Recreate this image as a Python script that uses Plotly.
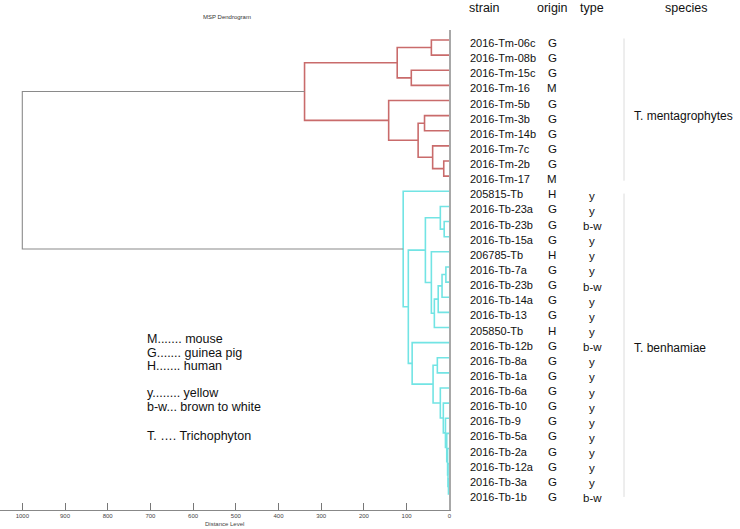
import plotly.graph_objects as go

# ---------------- data ----------------
strains = ["2016-Tm-06c", "2016-Tm-08b", "2016-Tm-15c", "2016-Tm-16", "2016-Tm-5b",
           "2016-Tm-3b", "2016-Tm-14b", "2016-Tm-7c", "2016-Tm-2b", "2016-Tm-17",
           "205815-Tb", "2016-Tb-23a", "2016-Tb-23b", "2016-Tb-15a", "206785-Tb",
           "2016-Tb-7a", "2016-Tb-23b", "2016-Tb-14a", "2016-Tb-13", "205850-Tb",
           "2016-Tb-12b", "2016-Tb-8a", "2016-Tb-1a", "2016-Tb-6a", "2016-Tb-10",
           "2016-Tb-9", "2016-Tb-5a", "2016-Tb-2a", "2016-Tb-12a", "2016-Tb-3a",
           "2016-Tb-1b"]
origins = ["G", "G", "G", "M", "G", "G", "G", "G", "G", "M",
           "H", "G", "G", "G", "H", "G", "G", "G", "G", "H",
           "G", "G", "G", "G", "G", "G", "G", "G", "G", "G", "G"]
types = ["", "", "", "", "", "", "", "", "", "",
         "y", "y", "b-w", "y", "y", "y", "b-w", "y", "y", "y",
         "b-w", "y", "y", "y", "y", "y", "y", "y", "y", "y", "b-w"]

# merges: (node name, child 1, child 2, distance level, group)
merges = [
    ("a", 0, 1, 42, "Tm"), ("b", 2, 3, 89, "Tm"), ("c", "a", "b", 122, "Tm"),
    ("d", 5, 6, 58, "Tm"), ("e", 8, 9, 13, "Tm"), ("f", 7, "e", 39, "Tm"),
    ("g", "d", "f", 73, "Tm"), ("h", 4, "g", 142, "Tm"), ("tm", "c", "h", 339, "Tm"),
    ("n1", 12, 13, 12, "Tb"), ("n2", 11, "n1", 21, "Tb"), ("n3", 15, 16, 8, "Tb"),
    ("n4", "n3", 17, 17, "Tb"), ("n5", "n4", 18, 26, "Tb"), ("n6", "n5", 19, 35, "Tb"),
    ("n7", 14, "n6", 42, "Tb"), ("A", "n2", "n7", 56, "Tb"),
    ("m1", 21, 22, 28, "Tb"), ("ma", 29, 30, 2, "Tb"), ("mb", 28, "ma", 3, "Tb"),
    ("mc", 27, "mb", 4, "Tb"), ("md", 26, "mc", 6, "Tb"), ("me", 25, "md", 9, "Tb"),
    ("mf", 24, "me", 14, "Tb"), ("mg", 23, "mf", 21, "Tb"), ("mh", "m1", "mg", 38, "Tb"),
    ("B", 20, "mh", 87, "Tb"), ("AB", "A", "B", 96, "Tb"), ("tb", 10, "AB", 108, "Tb"),
    ("root", "tm", "tb", 1000, "root"),
]
x_ticks = [0, 100, 200, 300, 400, 500, 600, 700, 800, 900, 1000]
species = ["T. mentagrophytes", "T. benhamiae"]
legend_lines = ["M....... mouse", "G....... guinea pig", "H....... human",
                "y........ yellow", "b-w... brown to white", "T. …. Trichophyton"]

# ---------------- layout helpers ----------------
W, H = 740, 529
def px(x):  # window pixel x -> paper
    return x / W
def py(y):  # window pixel y -> paper
    return (H - y) / H

colors = {"Tm": "#c96b6b", "Tb": "#72e4e4", "root": "#8a8a8a"}
widths = {"Tm": 1.6, "Tb": 1.6, "root": 1.1}

pos = {i: float(i) for i in range(len(strains))}
hgt = {i: 0.0 for i in range(len(strains))}
segs = {"Tm": ([], []), "Tb": ([], []), "root": ([], [])}
for name, c1, c2, d, grp in merges:
    pos[name] = (pos[c1] + pos[c2]) / 2
    hgt[name] = d
    xs, ys = segs[grp]
    xs += [hgt[c1], d, d, hgt[c2], None]
    ys += [pos[c1], pos[c1], pos[c2], pos[c2], None]

fig = go.Figure()
for grp in ["Tm", "Tb", "root"]:
    xs, ys = segs[grp]
    fig.add_trace(go.Scatter(x=xs, y=ys, mode="lines",
                             line=dict(color=colors[grp], width=widths[grp]),
                             hoverinfo="skip", showlegend=False))
# small leaf ticks beside the zero line
fig.add_trace(go.Scatter(x=[-4] * len(strains), y=[i - 0.12 for i in range(len(strains))],
                         mode="markers",
                         marker=dict(symbol="line-ns", size=5,
                                     line=dict(color="#777", width=1)),
                         hoverinfo="skip", showlegend=False))

ann = []
font = "Liberation Sans, Arial, sans-serif"
ann.append(dict(text="MSP Dendrogram", x=px(227), y=py(17), font=dict(size=6, color="#333")))
for t, x in [("strain", 484), ("origin", 552), ("type", 592), ("species", 686)]:
    ann.append(dict(text=t, x=px(x), y=py(7.5), font=dict(size=12.5, color="#111")))
lab_off = 0.2
for i, s in enumerate(strains):
    ann.append(dict(text=s, x=px(468), y=i + lab_off, yref="y", xanchor="left",
                    font=dict(size=11, color="#111")))
    ann.append(dict(text=origins[i], x=px(552), y=i + lab_off, yref="y",
                    font=dict(size=11.5, color="#111")))
    if types[i]:
        ann.append(dict(text=types[i], x=px(592), y=i + lab_off + 0.1, yref="y",
                        font=dict(size=11.5, color="#111")))
ann.append(dict(text=species[0], x=px(632), y=5.0, yref="y", xanchor="left",
                font=dict(size=12, color="#111")))
ann.append(dict(text=species[1], x=px(632), y=20.35, yref="y", xanchor="left",
                font=dict(size=12, color="#111")))
for txt, y in zip(legend_lines, [339, 353, 366, 393, 407, 436]):
    ann.append(dict(text=txt, x=px(145), y=py(y), xanchor="left",
                    font=dict(size=12.5, color="#111")))
for a in ann:
    a.setdefault("xref", "paper")
    a.setdefault("yref", "paper")
    a.setdefault("showarrow", False)
    a.setdefault("xanchor", "center")
    a.setdefault("yanchor", "middle")
    a["font"]["family"] = font

shapes = [
    dict(type="line", xref="paper", yref="y", x0=px(624), x1=px(624), y0=-0.1, y1=9.3,
         line=dict(color="#dcdcdc", width=1)),
    dict(type="line", xref="paper", yref="y", x0=px(624), x1=px(624), y0=10.15, y1=30.2,
         line=dict(color="#dcdcdc", width=1)),
]

x_px_per_unit = 0.427
x_zero_px = 449.3
fig.update_layout(
    width=W, height=H, margin=dict(l=0, r=0, t=0, b=0),
    paper_bgcolor="white", plot_bgcolor="white",
    annotations=ann, shapes=shapes, showlegend=False,
    xaxis=dict(domain=[0, px(x_zero_px)],
               range=[x_zero_px / x_px_per_unit, 0],
               tickvals=x_ticks, ticks="inside", ticklen=7, tickcolor="#777",
               showline=True, linecolor="#888", linewidth=1, showgrid=False,
               zeroline=False, tickfont=dict(size=6, color="#444", family=font),
               title=dict(text="Distance Level", font=dict(size=6, color="#444", family=font),
                          standoff=3),
               automargin=False),
    yaxis=dict(domain=[py(510), py(30)], range=[(510 - 40) / 15.13, (30 - 40) / 15.13],
               side="right", showline=True, linecolor="#a8a8a8", linewidth=1.5,
               showticklabels=False, ticks="", showgrid=False, zeroline=False,
               automargin=False),
)
# remove the default 8px page margin so the figure fills the window exactly
fig.write_html("out.html", config={"displayModeBar": False},
               post_script="document.body.style.margin='0';document.body.style.overflow='hidden';")
